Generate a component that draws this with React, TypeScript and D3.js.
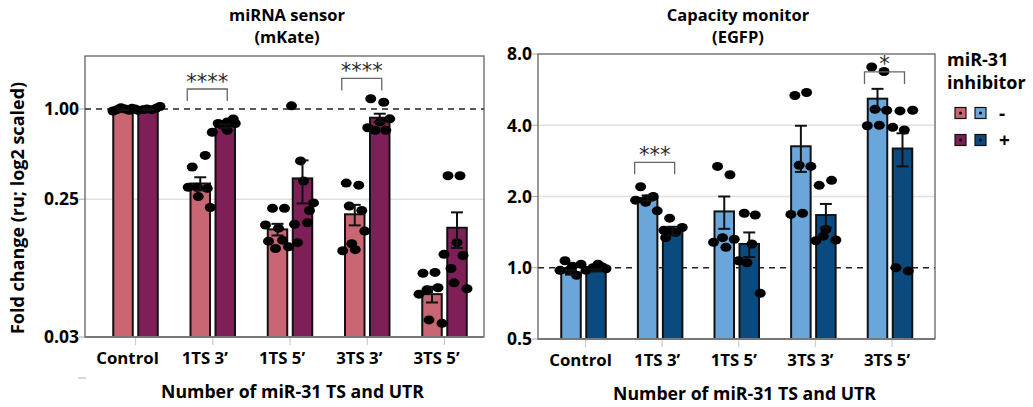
import React from 'react';
import * as d3 from 'd3';

const categories = ['Control', '1TS 3’', '1TS 5’', '3TS 3’', '3TS 5’'];

// miRNA sensor (mKate)
const sensorMinusMean = [0.985, 0.318, 0.157, 0.198, 0.058];
const sensorMinusSem = [0.006, 0.032, 0.014, 0.031, 0.007];
const sensorPlusMean = [0.99, 0.77, 0.344, 0.875, 0.161];
const sensorPlusSem = [0.006, 0.02, 0.11, 0.055, 0.043];
const sensorMinusPoints = [
  [0.97, 0.99, 1.02, 1.0, 0.98, 1.01, 1.0],
  [0.41, 0.49, 0.3, 0.3, 0.295, 0.26, 0.22],
  [0.217, 0.217, 0.168, 0.16, 0.131, 0.133, 0.117, 0.12],
  [0.32, 0.31, 0.225, 0.21, 0.153, 0.126, 0.113, 0.115],
  [0.08, 0.081, 0.058, 0.062, 0.064, 0.039, 0.037],
];
const sensorPlusPoints = [
  [0.98, 0.99, 1.0, 0.99, 1.01, 1.04],
  [0.7, 0.8, 0.82, 0.857, 0.8, 0.72, 0.78],
  [1.05, 0.45, 0.33, 0.236, 0.21, 0.17, 0.174, 0.128],
  [1.17, 1.11, 0.86, 0.75, 0.72, 0.72, 0.82],
  [0.358, 0.358, 0.128, 0.107, 0.105, 0.086, 0.069, 0.063],
];

// Capacity monitor (EGFP)
const monitorMinusMean = [0.955, 1.97, 1.73, 3.26, 5.18];
const monitorMinusSem = [0.02, 0.05, 0.27, 0.72, 0.52];
const monitorPlusMean = [0.975, 1.43, 1.26, 1.67, 3.19];
const monitorPlusSem = [0.01, 0.06, 0.15, 0.19, 0.51];
const monitorMinusPoints = [
  [1.07, 0.975, 0.975, 0.93, 1.015, 1.035],
  [2.2, 1.93, 1.89, 2.0, 1.74, 1.95],
  [2.68, 2.47, 1.28, 1.34, 1.22, 1.32],
  [5.34, 5.5, 2.71, 2.68, 1.68, 1.7],
  [7.05, 6.75, 4.67, 4.63, 3.98, 4.0],
];
const monitorPlusPoints = [
  [0.975, 1.0, 1.035, 1.01, 0.99],
  [1.62, 1.44, 1.43, 1.48, 1.34, 1.41],
  [1.7, 1.67, 1.26, 1.05, 0.78, 1.07],
  [2.23, 2.34, 1.45, 1.36, 1.3, 1.31],
  [4.6, 4.63, 3.92, 3.82, 1.0, 0.97],
];

const sensorTicks = [1.0, 0.25, 0.03];
const monitorTicks = [8, 4, 2, 1, 0.5];

const sensorSig = [
  { cat: '1TS 3’', y: 1.36, label: '****' },
  { cat: '3TS 3’', y: 1.6, label: '****' },
];
const monitorSig = [
  { cat: '1TS 3’', y: 2.79, label: '***' },
  { cat: '3TS 5’', y: 6.72, label: '*' },
];

// jitter (px offsets of the dots from the bar centre) – layout only
const sensorMinusJitter = [
  [-10, -6, -2, 2, 6, 9, 12],
  [-8, 5, -12, -3, 7, -2, 10],
  [-5, 7, -12, 1, -9, 5, -2, 11],
  [-8.5, 4, -5.5, 7, 10, -3, -12, 0.5],
  [-9, 3, -13, -5, 6, -3, 10],
];
const sensorPlusJitter = [
  [-10, -5, -1, 4, 8, 12],
  [-13, -7, 2, 8, 10, 2, -3],
  [-11, -2, 1, 11, 7, -8, 5, -5],
  [-9, 4, 10, -12, -4.5, 6, 0.5],
  [-9, 3, 0, -13, 6, -6, -3, 10],
];
const monitorMinusJitter = [
  [-6, -11, -2, 5.5, 1.5, 10],
  [-7, -12, -2, 5.6, 9.6, -1],
  [-6.7, 5.7, -10.7, -1.7, 1.7, 10],
  [-6, 5.7, -1.7, 10, -10, 1.7],
  [-5.8, 6.5, -2.5, 9.2, -10.2, 1.8],
];
const monitorPlusJitter = [
  [-10, -3, 2, 6, 10],
  [-3, -8.7, -1, 9.6, -7, 3],
  [-5, 6, 2.7, -2.3, 11, -10.7],
  [-6.7, 5.7, 0, -2.7, -10, 10],
  [-2.5, 10.2, -9.8, 1.8, -6.5, 5.8],
];

const FONT = '"Open Sans", Lato, sans-serif';
const PINK = '#C96674';
const PURPLE = '#7E1F57';
const LBLUE = '#6BA6DB';
const DBLUE = '#0B4A7E';

type PanelProps = {
  x0: number; x1: number; y0: number; y1: number;
  domain: [number, number];
  ticks: number[];
  fmt: (v: number) => string;
  range: [number, number];
  tickShift: number;
  labelShift: number;
  colors: [string, string];
  minusMean: number[]; minusSem: number[]; plusMean: number[]; plusSem: number[];
  minusPts: number[][]; plusPts: number[][];
  minusJit: number[][]; plusJit: number[][];
  sig: { cat: string; y: number; label: string }[];
  title: [string, string];
  titleX: number;
};

function Panel(p: PanelProps) {
  const y = d3.scaleLog().base(2).domain(p.domain).range([p.y1, p.y0]);
  const x = d3.scalePoint<string>().domain(categories).range(p.range);
  const bw = 19.5;
  const off = 12.5;
  const bars = [
    { mean: p.minusMean, sem: p.minusSem, pts: p.minusPts, jit: p.minusJit, dx: -off, color: p.colors[0] },
    { mean: p.plusMean, sem: p.plusSem, pts: p.plusPts, jit: p.plusJit, dx: off, color: p.colors[1] },
  ];
  return (
    <g>
      <text x={p.titleX} y={20.5} textAnchor="middle" fontFamily={FONT} fontWeight={700} fontSize={16.5}>{p.title[0]}</text>
      <text x={p.titleX} y={43} textAnchor="middle" fontFamily={FONT} fontWeight={700} fontSize={16.5}>{p.title[1]}</text>
      {p.ticks.filter(t => t !== 1 && y(t) > p.y0 + 2 && y(t) < p.y1 - 2).map(t => (
        <line key={'g' + t} x1={p.x0} x2={p.x1} y1={y(t)} y2={y(t)} stroke="#e0e0e0" strokeWidth={1.5} />
      ))}
      {p.ticks.map(t => (
        <g key={'t' + t}>
          <line x1={p.x0 - 6} x2={p.x0} y1={y(t)} y2={y(t)} stroke="#aaa" strokeWidth={1} />
          <text x={p.x0 - 6} y={y(t)} dy="0.36em" textAnchor="end" fontFamily={FONT} fontWeight={700} fontSize={17.5}>{p.fmt(t)}</text>
        </g>
      ))}
      <line x1={p.x0} x2={p.x1} y1={y(1)} y2={y(1)} stroke="#222" strokeWidth={1.6} strokeDasharray="6,5" />
      {categories.map(c => (
        <g key={'x' + c}>
          <line x1={x(c)! + p.tickShift} x2={x(c)! + p.tickShift} y1={p.y1} y2={p.y1 + 8} stroke="#ccc" strokeWidth={1.2} />
          <text x={x(c)! + p.labelShift} y={p.y1 + 27} textAnchor="middle" fontFamily={FONT} fontWeight={700} fontSize={16.8}>{c}</text>
        </g>
      ))}
      {bars.map((b, bi) => categories.map((c, i) => {
        const cx = x(c)! + b.dx;
        const top = y(b.mean[i]);
        return (
          <rect key={'b' + bi + i} x={cx - bw / 2} y={top} width={bw} height={p.y1 - top}
            fill={b.color} stroke="#111" strokeWidth={2} />
        );
      }))}
      {bars.map((b, bi) => categories.map((c, i) => {
        const cx = x(c)! + b.dx;
        return b.pts[i].map((v, k) => (
          <ellipse key={'p' + bi + i + k} cx={cx + b.jit[i][k]} cy={y(v)} rx={5.5} ry={4.5} fill="#000" />
        ));
      }))}
      {bars.map((b, bi) => categories.map((c, i) => {
        const cx = x(c)! + b.dx;
        const hi = y(b.mean[i] + b.sem[i]);
        const lo = y(Math.max(b.mean[i] - b.sem[i], p.domain[0]));
        return (
          <g key={'e' + bi + i}>
            <line x1={cx} x2={cx} y1={hi} y2={lo} stroke="#111" strokeWidth={2} />
            <line x1={cx - 6} x2={cx + 6} y1={hi} y2={hi} stroke="#111" strokeWidth={2} />
            <line x1={cx - 6} x2={cx + 6} y1={lo} y2={lo} stroke="#111" strokeWidth={2} />
          </g>
        );
      }))}
      {p.sig.map(s => {
        const xa = x(s.cat)! - off - 13;
        const xb = x(s.cat)! + off + 2;
        const yy = y(s.y);
        return (
          <g key={'s' + s.cat}>
            <path d={`M${xa},${yy + 12}V${yy}H${xb}V${yy + 12}`} fill="none" stroke="#666" strokeWidth={1.3} />
            <text x={(xa + xb) / 2} y={yy - 0.5} textAnchor="middle" fontFamily="DejaVu Sans" fontSize={21} fill="#2a2a2a">{s.label}</text>
          </g>
        );
      })}
      <rect x={p.x0} y={p.y0} width={p.x1 - p.x0} height={p.y1 - p.y0} fill="none" stroke="#555" strokeWidth={1.2} />
      <line x1={p.x0} x2={p.x1} y1={p.y1} y2={p.y1} stroke="#777" strokeWidth={2} />
      <text x={(p.x0 + p.x1) / 2 + 8} y={p.y1 + 61} textAnchor="middle" fontFamily={FONT} fontWeight={700} fontSize={17.7}>Number of miR-31 TS and UTR</text>
    </g>
  );
}

export default function App() {
  return (
    <svg width={1033} height={407} style={{ position: 'absolute', left: 0, top: 0, background: '#fff' }}>
      <Panel x0={85} x1={484} y0={56} y1={337} domain={[0.03, 2.26]} ticks={sensorTicks}
        fmt={v => v.toFixed(2)} range={[135.5, 444.5]} tickShift={0} labelShift={-8}
        colors={[PINK, PURPLE]}
        minusMean={sensorMinusMean} minusSem={sensorMinusSem} plusMean={sensorPlusMean} plusSem={sensorPlusSem}
        minusPts={sensorMinusPoints} plusPts={sensorPlusPoints} minusJit={sensorMinusJitter} plusJit={sensorPlusJitter}
        sig={sensorSig} title={['miRNA sensor', '(mKate)']} titleX={287} />
      <Panel x0={538} x1={935} y0={54} y1={339} domain={[0.5, 8]} ticks={monitorTicks}
        fmt={v => v.toFixed(1)} range={[583.5, 890]} tickShift={2} labelShift={-3}
        colors={[LBLUE, DBLUE]}
        minusMean={monitorMinusMean} minusSem={monitorMinusSem} plusMean={monitorPlusMean} plusSem={monitorPlusSem}
        minusPts={monitorMinusPoints} plusPts={monitorPlusPoints} minusJit={monitorMinusJitter} plusJit={monitorPlusJitter}
        sig={monitorSig} title={['Capacity monitor', '(EGFP)']} titleX={738} />
      <text transform="translate(24,208) rotate(-90)" textAnchor="middle" fontFamily={FONT} fontWeight={700} fontSize={18}>Fold change (ru; log2 scaled)</text>
      <line x1={78} x2={86} y1={378} y2={378} stroke="#ccc" strokeWidth={1.5} />
      <g fontFamily={FONT} fontWeight={700}>
        <text x={947} y={66} fontSize={18}>miR-31</text>
        <text x={947} y={89} fontSize={18}>inhibitor</text>
        {[[PINK, LBLUE, '-'], [PURPLE, DBLUE, '+']].map((r, i) => (
          <g key={'l' + i} transform={`translate(0,${113 + i * 27})`}>
            <rect x={955} y={-5.5} width={11} height={11} fill={r[0]} stroke="#111" strokeWidth={1.2} />
            <circle cx={960.5} cy={0} r={1.6} fill="#000" />
            <rect x={975} y={-5.5} width={11} height={11} fill={r[1]} stroke="#111" strokeWidth={1.2} />
            <circle cx={980.5} cy={0} r={1.6} fill="#000" />
            <text x={999} y={0} dy="0.36em" fontSize={19}>{r[2]}</text>
          </g>
        ))}
      </g>
    </svg>
  );
}
